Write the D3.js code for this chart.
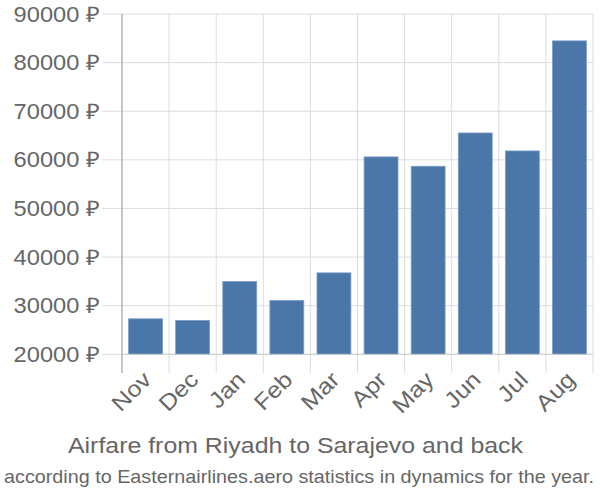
<!DOCTYPE html>
<html><head><meta charset="utf-8">
<script src="https://cdn.jsdelivr.net/npm/d3@7/dist/d3.min.js"></script>
<style>body{margin:0;background:#fff}text{font-family:"Liberation Sans",Arial,sans-serif}</style>
</head><body><svg id="c" width="600" height="500"></svg>
<script>
const months = ["Nov","Dec","Jan","Feb","Mar","Apr","May","Jun","Jul","Aug"];
const prices = [27300,26970,34970,31070,36750,60600,58680,65530,61830,84470];
const yTicks = [20000,30000,40000,50000,60000,70000,80000,90000];
const title = "Airfare from Riyadh to Sarajevo and back";
const subtitle = "according to Easternairlines.aero statistics in dynamics for the year.";

const svg = d3.select("#c");
const L = 122, R = 593, T = 14, B = 354.3;
const x = d3.scaleBand().domain(months).range([L, R]).paddingInner(0.28).paddingOuter(0.14);
const y = d3.scaleLinear().domain([20000, 90000]).range([B, T]);

// horizontal grid + ticks
const gy = svg.append("g");
gy.selectAll("line").data(yTicks).join("line")
  .attr("x1", 102).attr("x2", R).attr("y1", d => y(d)).attr("y2", d => y(d))
  .attr("stroke", "#ddd").attr("stroke-width", 1);
gy.selectAll("text").data(yTicks).join("text")
  .attr("transform", d => `translate(99.5,${y(d)}) scale(1.1,1)`)
  .attr("dy", "0.35em")
  .attr("text-anchor", "end").attr("fill", "#666").attr("font-size", 21.5)
  .text(d => d + " \u20BD");

// vertical grid lines
const vx = months.map((m, i) => L + i * x.step()).concat([R]);
svg.append("g").selectAll("line").data(vx).join("line")
  .attr("x1", d => d).attr("x2", d => d).attr("y1", T).attr("y2", 373)
  .attr("stroke", "#ddd").attr("stroke-width", 1);

// y axis line
svg.append("line").attr("x1", L).attr("x2", L).attr("y1", T).attr("y2", 373)
  .attr("stroke", "#aaa").attr("stroke-width", 1.2);

// bars
svg.append("g").selectAll("rect").data(prices).join("rect")
  .attr("x", (d, i) => x(months[i])).attr("width", x.bandwidth())
  .attr("y", d => y(d)).attr("height", d => B - y(d))
  .attr("fill", "#4a76a8").attr("stroke", "#7a9cc6").attr("stroke-width", 0.8);

// baseline
svg.append("line").attr("x1", L).attr("x2", R).attr("y1", B).attr("y2", B)
  .attr("stroke", "#ccc").attr("stroke-width", 1);

// x labels
svg.append("g").selectAll("text").data(months).join("text")
  .attr("transform", d => `translate(${x(d) + x.bandwidth()/2 + 7},${381}) rotate(-45) scale(1.12,1)`)
  .attr("text-anchor", "end").attr("fill", "#666").attr("font-size", 22.5)
  .text(d => d);

svg.append("text").attr("x", 68).attr("y", 453).attr("text-anchor", "start")
  .attr("fill", "#666").attr("font-size", 22)
  .attr("textLength", 455).attr("lengthAdjust", "spacingAndGlyphs").text(title);
svg.append("text").attr("x", 4).attr("y", 483).attr("text-anchor", "start")
  .attr("fill", "#666").attr("font-size", 19)
  .attr("textLength", 590).attr("lengthAdjust", "spacingAndGlyphs").text(subtitle);
</script></body></html>
